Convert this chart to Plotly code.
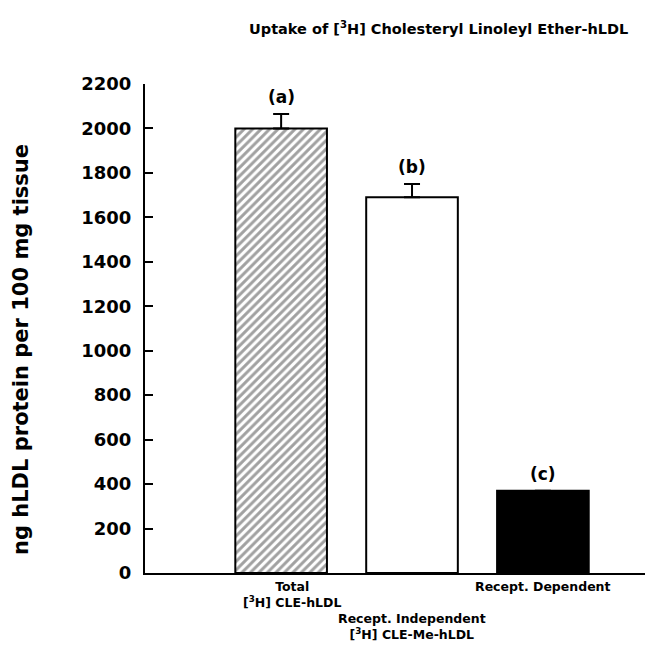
import plotly.graph_objects as go

categories = ["Total", "Recept. Independent", "Recept. Dependent"]
cat_labels = ["Total<br>[<sup>3</sup>H] CLE-hLDL",
              "Recept. Independent<br>[<sup>3</sup>H] CLE-Me-hLDL",
              "Recept. Dependent"]
values = [2000, 1690, 370]
errors = [65, 60, 0]
letters = ["(a)", "(b)", "(c)"]
yticks = [0, 200, 400, 600, 800, 1000, 1200, 1400, 1600, 1800, 2000, 2200]

FONT = "DejaVu Sans"
xpos = list(range(len(categories)))

fig = go.Figure()
fig.add_trace(go.Bar(
    x=xpos, y=values, width=0.70,
    marker=dict(
        color=["white", "white", "black"],
        line=dict(color="black", width=2),
        pattern=dict(shape=["/", "", ""], fgcolor="black", bgcolor="white",
                     size=6, solidity=0.5),
    ),
    error_y=dict(type="data", symmetric=False, array=errors,
                 arrayminus=[0, 0, 0], color="black", thickness=2, width=8,
                 visible=True),
    showlegend=False,
))

annotations = []
label_y = [v + e for v, e in zip(values, errors)]
for i, (lt, ly) in enumerate(zip(letters, label_y)):
    annotations.append(dict(x=xpos[i], y=ly, xref="x", yref="y", text=lt,
                            showarrow=False, yanchor="bottom", yshift=5,
                            font=dict(family=FONT, size=17, color="black", weight="bold")))

shifts = [(0.08, -4), (0.0, -36), (0.0, -4)]
for i, lab in enumerate(cat_labels):
    dx, dy = shifts[i]
    annotations.append(dict(x=xpos[i] + dx, y=0, xref="x", yref="paper", text=lab,
                            showarrow=False, yanchor="top", yshift=dy,
                            font=dict(family=FONT, size=12.5, color="black", weight="bold")))

annotations.append(dict(x=0.97, y=1.0, xref="paper", yref="paper",
                        text="Uptake of [<sup>3</sup>H] Cholesteryl Linoleyl Ether-hLDL",
                        showarrow=False, xanchor="right", yanchor="bottom", yshift=45,
                        font=dict(family=FONT, size=14.5, color="black", weight="bold")))

annotations.append(dict(x=0, y=(573 - 350) / 489, xref="paper", yref="paper",
                        text="ng hLDL protein per 100 mg tissue", textangle=-90,
                        showarrow=False, xanchor="center", yanchor="middle", xshift=-124,
                        font=dict(family=FONT, size=21, color="black", weight="bold")))

fig.update_layout(
    width=645, height=647,
    margin=dict(l=145, r=0, t=84, b=74),
    paper_bgcolor="white", plot_bgcolor="white",
    annotations=annotations,
    xaxis=dict(range=[-1.04, 2.78], showline=True, linecolor="black", linewidth=2,
               showticklabels=False, ticks="", showgrid=False, zeroline=False),
    yaxis=dict(range=[0, 2200], tickvals=yticks, ticks="inside", ticklen=8,
               tickwidth=2, tickcolor="black",
               showline=True, linecolor="black", linewidth=2, showgrid=False,
               zeroline=False, ticklabelstandoff=8,
               tickfont=dict(family=FONT, size=18, color="black", weight="bold")),
    font=dict(family=FONT, color="black"),
)
fig.write_html("out.html")
